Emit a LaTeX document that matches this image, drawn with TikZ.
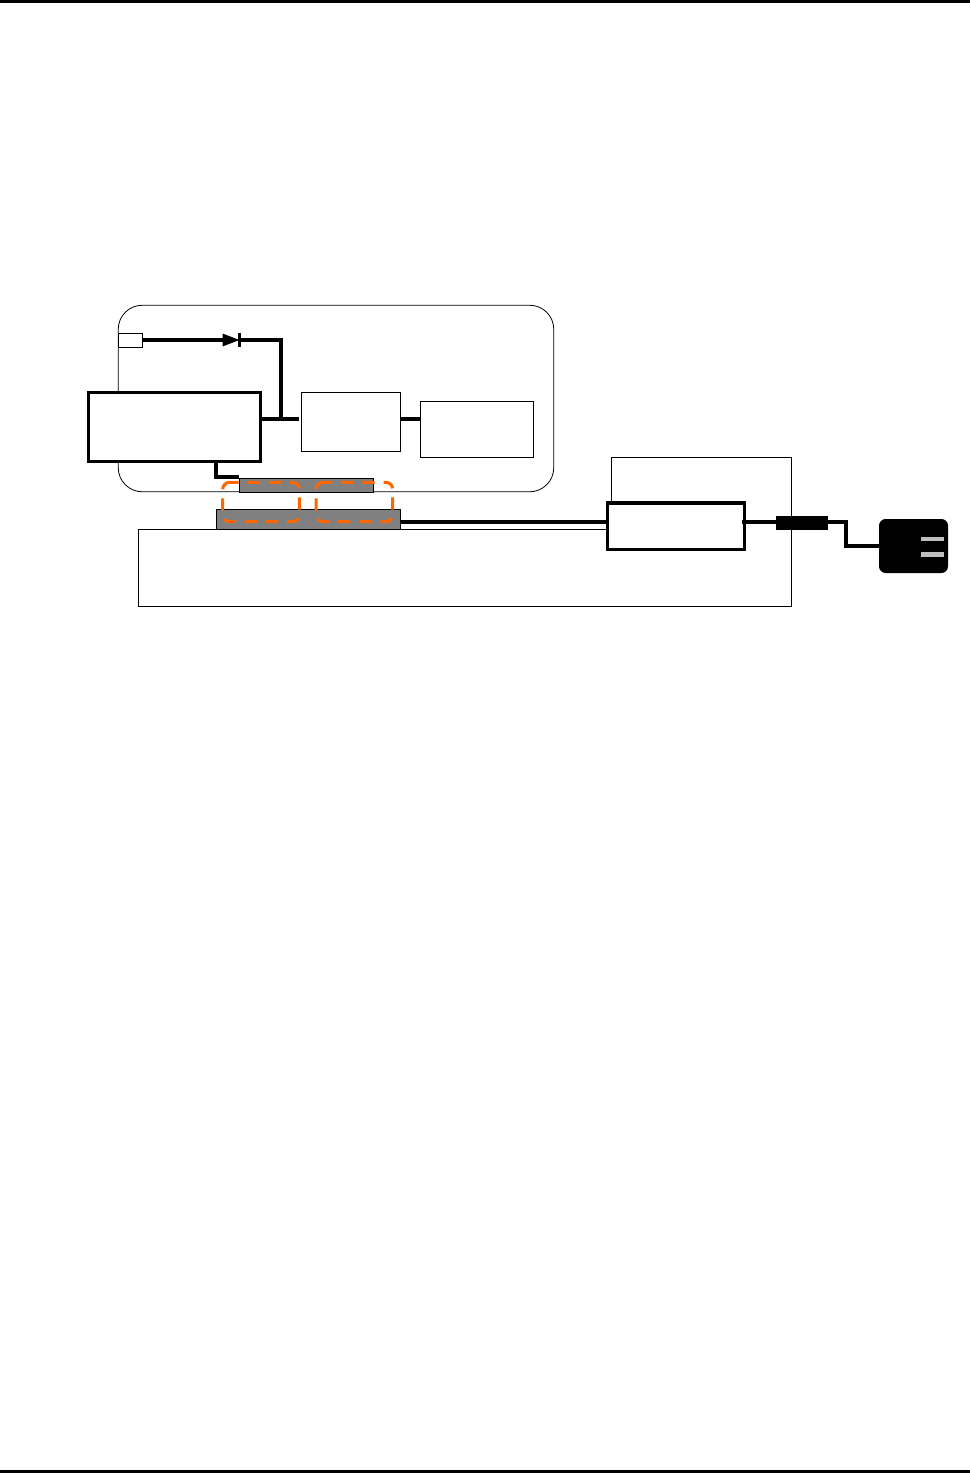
\documentclass[tikz,border=0pt]{standalone}
\usepackage{xcolor}
\usetikzlibrary{calc}
\definecolor{naranja}{HTML}{FF6600}
\begin{document}
\begin{tikzpicture}[
    x=0.75pt, y=-0.75pt,
    size/.style 2 args={minimum width=#1*0.75pt, minimum height=#2*0.75pt},
    block/.style={draw, fill=white, inner sep=0pt, outer sep=0pt},
    thinbox/.style={block, line width=0.6pt},
    thickbox/.style={block, line width=2.5pt},
    greybar/.style={block, fill=black!50, line width=0.6pt},
    zonebox/.style={inner sep=0pt, outer sep=0pt},
    zone/.style={draw=naranja, line width=2.3pt, rounded corners=5.25pt, dash pattern=on 9.15pt off 6.75pt, dash phase=3.15pt},
    wire/.style={line width=2.5pt},
    pin/.style={fill=black!25, inner sep=0pt, outer sep=0pt}
]
\useasboundingbox (0,0) rectangle (970,1473);

% Filetes de pagina
\fill (0,0) rectangle (970,3);
\fill (0,1470) rectangle (970,1473);

% Recintos
\node[thinbox, rounded corners=18pt, size={435.5}{186.5}] (carcasa) at (336,398.5) {};
\draw[line width=0.6pt] (138,529) -- (138,606.5) -- (791.5,606.5) -- (791.5,457) -- (611,457) -- (611,529) -- cycle;

% Bloques
\node[thinbox, size={24.5}{14}] (entrada) at (130.25,340) {};
\node[thickbox, size={172}{69}] (fuente) at (174.5,426.8) {};
\node[thinbox, size={99.5}{59.5}] (carga) at (350.75,421.75) {};
\node[thinbox, size={113.5}{56.5}] (salida) at (476.75,429.25) {};
\node[greybar, size={134.5}{14}] (barra1) at (306.25,485) {};
\node[greybar, size={184.5}{20}] (barra2) at (308.25,519) {};
\node[thickbox, size={137}{46.5}] (modulo) at (676,526.2) {};
\node[fill=black, inner sep=0pt, size={52}{14}] (filtro) at (802,523) {};
\node[fill=black, rounded corners=5pt, inner sep=0pt, size={69}{54}] (enchufe) at (913.5,546) {};
\node[pin, size={23}{4.5}] (pata1) at (932.5,539) {};
\node[pin, size={23}{4.5}] (pata2) at (932.5,554.5) {};

% Diodo
\coordinate (anodo) at (222.5,340);
\coordinate (catodo) at (239.5,340);
\fill (anodo) ++(0,-6.5) -- (catodo) -- ++(-17,6.5) -- cycle;
\draw[wire] ($(catodo)+(0,-7)$) -- ($(catodo)+(0,7)$);

% Conexiones
\coordinate (nudo) at (281,419);
\draw[wire] (entrada.east) -- (anodo);
\draw[wire] (catodo) -| (nudo);
\draw[wire] (fuente.east |- nudo) -- (299,419);
\draw[wire] (carga.east |- nudo) -- (salida.west |- nudo);
\draw[wire] (216,460) |- (barra1.west |- 0,477);
\coordinate (cable) at (0,522);
\draw[wire] (barra2.east |- cable) -- (modulo.west |- cable);
\draw[wire] (742,522) -- (filtro.west |- cable);
\draw[wire] (filtro.east |- cable) -- (846,522) -- (846,546) -- (enchufe.west);

% Zonas discontinuas
\node[zonebox, size={76.6}{39.4}] (zona1) at (261,502) {};
\node[zonebox, size={76.6}{39.4}] (zona2) at (354.4,502) {};
\foreach \zona in {zona1,zona2} {
    \draw[zone] ($(\zona.north west)+(8,0)$) -- (\zona.north east) -- (\zona.south east) -- (\zona.south west) -- (\zona.north west) -- ($(\zona.north west)+(8,0)$);
}

\end{tikzpicture}
\end{document}
